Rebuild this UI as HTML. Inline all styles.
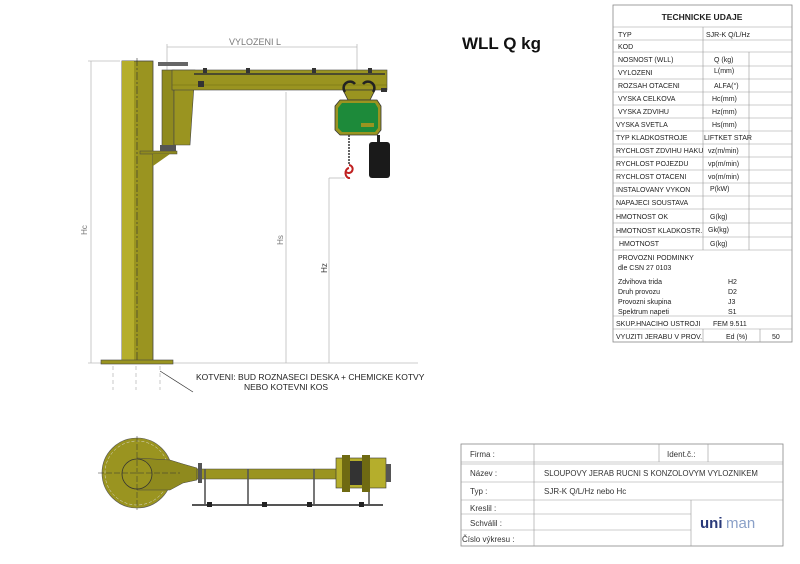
<!DOCTYPE html>
<html><head><meta charset="utf-8"><style>
body{margin:0;background:#fff}
svg{display:block}
text{font-family:"Liberation Sans",sans-serif}
</style></head><body>
<svg width="800" height="564" viewBox="0 0 800 564" xmlns="http://www.w3.org/2000/svg">
<rect width="800" height="564" fill="#fff"/>
<!-- side view -->
<g stroke="#bbb" stroke-width="0.8" fill="none">
<line x1="91" y1="61" x2="91" y2="363"/><line x1="88" y1="61" x2="120" y2="61"/>
<line x1="167" y1="47" x2="357" y2="47"/><line x1="167" y1="44" x2="167" y2="70"/><line x1="357" y1="44" x2="357" y2="100"/>
<line x1="286" y1="92" x2="286" y2="363"/>
<line x1="329" y1="178" x2="329" y2="363"/><line x1="329" y1="178" x2="345" y2="178"/>
<line x1="88" y1="363" x2="418" y2="363"/>
<line x1="113" y1="366" x2="113" y2="390" stroke-dasharray="4 3"/>
<line x1="136" y1="366" x2="136" y2="390" stroke-dasharray="4 3"/>
<line x1="160" y1="366" x2="160" y2="390" stroke-dasharray="4 3"/>
</g>
<text x="255" y="45" font-size="9" fill="#777" text-anchor="middle">VYLOZENI  L</text>
<text x="87" y="230" font-size="8" fill="#777" transform="rotate(-90 87 230)" text-anchor="middle">Hc</text>
<text x="283" y="240" font-size="8" fill="#777" transform="rotate(-90 283 240)" text-anchor="middle">Hs</text>
<text x="327" y="268" font-size="8" fill="#333" transform="rotate(-90 327 268)" text-anchor="middle">Hz</text>
<!-- column -->
<rect x="122" y="61" width="31" height="301" fill="#9a9420" stroke="#444" stroke-width="0.8"/>
<rect x="122" y="61" width="12" height="301" fill="#b5ae2c"/>
<line x1="137" y1="58" x2="137" y2="366" stroke="#333" stroke-width="0.6" stroke-dasharray="8 2 2 2"/>
<rect x="101" y="360" width="72" height="4" fill="#9a9420" stroke="#444" stroke-width="0.6"/>
<!-- bracket -->
<rect x="158" y="62" width="30" height="4" fill="#666"/>
<rect x="162" y="70" width="12" height="78" fill="#8f8a1e" stroke="#444" stroke-width="0.6"/>
<polygon points="174,70 195,70 190,145 174,145" fill="#9a9420" stroke="#444" stroke-width="0.6"/>
<rect x="140" y="151" width="37" height="3" fill="#8f8a1e" stroke="#444" stroke-width="0.5"/>
<polygon points="153,154 170,154 153,166" fill="#8f8a1e"/>
<rect x="160" y="145" width="16" height="6" fill="#555"/>
<!-- boom -->
<rect x="172" y="70" width="215" height="20" fill="#9a9420" stroke="#444" stroke-width="0.6"/>
<line x1="194" y1="74" x2="385" y2="74" stroke="#333" stroke-width="1.5"/>
<line x1="172" y1="85" x2="387" y2="85" stroke="#6f6a12" stroke-width="0.6"/>
<g fill="#333"><rect x="203" y="68" width="4" height="5"/><rect x="246" y="68" width="4" height="5"/><rect x="312" y="68" width="4" height="5"/><rect x="368" y="68" width="4" height="5"/><rect x="198" y="81" width="6" height="6"/><rect x="381" y="88" width="6" height="4"/></g>
<!-- trolley & hoist -->
<path d="M343 90 L375 90 L370 100 L348 100 Z" fill="#9a9420" stroke="#333" stroke-width="0.8"/>
<path d="M345 92 a6 6 0 0 1 10 -8 M363 84 a6 6 0 0 1 10 8" stroke="#222" stroke-width="2.5" fill="none"/>
<polygon points="340,100 377,100 381,106 381,130 377,135 340,135 335,130 335,106" fill="#9a9420" stroke="#333" stroke-width="0.8"/>
<polygon points="342,103 375,103 378,108 378,128 375,132 342,132 338,128 338,108" fill="#1d8a3a"/>
<rect x="361" y="123" width="13" height="4" fill="#9a9420"/>
<rect x="377" y="135" width="3" height="8" fill="#222"/>
<rect x="369" y="142" width="21" height="36" rx="3" fill="#1a1a1a"/>
<line x1="349" y1="135" x2="349" y2="165" stroke="#333" stroke-width="1.5" stroke-dasharray="2 1"/>
<path d="M349 165 a4 4 0 1 1 -3 7 M349 168 a4 5 0 1 0 1 10" stroke="#c02020" stroke-width="2" fill="none"/>
<text x="196" y="380" font-size="8.5" fill="#222">KOTVENI:   BUD ROZNASECI DESKA + CHEMICKE KOTVY</text>
<text x="244" y="390" font-size="8.5" fill="#222">NEBO KOTEVNI KOS</text>
<line x1="160" y1="371" x2="193" y2="392" stroke="#333" stroke-width="0.7"/>
<text x="462" y="49" font-size="17" font-weight="bold" fill="#111">WLL Q kg</text>
<!-- plan view -->
<circle cx="137" cy="473" r="35" fill="#9a9420" stroke="#555" stroke-width="0.6"/>
<circle cx="137" cy="473" r="32" fill="none" stroke="#ddd" stroke-width="0.5" stroke-dasharray="3 2"/>
<polygon points="137,458 170,460 183,464 197,468 197,480 183,483 170,490 137,490" fill="#8f8a1e" stroke="#444" stroke-width="0.5"/>
<circle cx="137" cy="474" r="15" fill="#9a9420" stroke="#333" stroke-width="0.8"/>
<line x1="98" y1="473" x2="180" y2="473" stroke="#333" stroke-width="0.5" stroke-dasharray="6 2"/>
<line x1="137" y1="436" x2="137" y2="510" stroke="#333" stroke-width="0.5" stroke-dasharray="6 2"/>
<rect x="197" y="469" width="140" height="10" fill="#9a9420" stroke="#444" stroke-width="0.5"/>
<rect x="198" y="463" width="4" height="20" fill="#555"/>
<g stroke="#555" stroke-width="1.6"><line x1="205" y1="469" x2="205" y2="505"/><line x1="248" y1="469" x2="248" y2="505"/><line x1="314" y1="469" x2="314" y2="505"/><line x1="369" y1="469" x2="369" y2="505"/></g>
<line x1="192" y1="505" x2="383" y2="505" stroke="#555" stroke-width="2"/>
<g fill="#222"><rect x="207" y="502" width="5" height="5"/><rect x="262" y="502" width="5" height="5"/><rect x="307" y="502" width="5" height="5"/><rect x="359" y="502" width="5" height="5"/></g>
<rect x="336" y="458" width="50" height="30" fill="#b5ae2c" stroke="#333" stroke-width="0.6"/>
<rect x="342" y="455" width="8" height="37" fill="#6f6a12"/>
<rect x="362" y="455" width="8" height="37" fill="#6f6a12"/>
<rect x="350" y="461" width="12" height="24" fill="#333"/>
<rect x="386" y="464" width="5" height="18" fill="#555"/>
<!-- technical table -->
<g font-size="7" fill="#222">
<rect x="613" y="5" width="179" height="337" fill="none" stroke="#888" stroke-width="0.8"/>
<text x="702" y="20" font-size="8.5" font-weight="bold" text-anchor="middle">TECHNICKE  UDAJE</text>
<g stroke="#999" stroke-width="0.6">
<line x1="613" y1="27" x2="792" y2="27"/><line x1="613" y1="40" x2="792" y2="40"/><line x1="613" y1="52" x2="792" y2="52"/><line x1="613" y1="66" x2="792" y2="66"/><line x1="613" y1="79" x2="792" y2="79"/><line x1="613" y1="92" x2="792" y2="92"/><line x1="613" y1="105" x2="792" y2="105"/><line x1="613" y1="118" x2="792" y2="118"/><line x1="613" y1="131" x2="792" y2="131"/><line x1="613" y1="144" x2="792" y2="144"/><line x1="613" y1="157" x2="792" y2="157"/><line x1="613" y1="170" x2="792" y2="170"/><line x1="613" y1="183" x2="792" y2="183"/><line x1="613" y1="196" x2="792" y2="196"/><line x1="613" y1="209" x2="792" y2="209"/><line x1="613" y1="223" x2="792" y2="223"/><line x1="613" y1="237" x2="792" y2="237"/><line x1="613" y1="250" x2="792" y2="250"/><line x1="613" y1="316" x2="792" y2="316"/><line x1="613" y1="329" x2="792" y2="329"/>
<line x1="703" y1="27" x2="703" y2="250"/><line x1="749" y1="52" x2="749" y2="250"/><line x1="703" y1="329" x2="703" y2="342"/><line x1="760" y1="329" x2="760" y2="342"/>
</g>
<text x="618" y="37">TYP</text><text x="706" y="37">SJR-K Q/L/Hz</text>
<text x="618" y="49">KOD</text>
<text x="618" y="62">NOSNOST (WLL)</text><text x="714" y="62">Q (kg)</text>
<text x="618" y="75">VYLOZENI</text><text x="714" y="73">L(mm)</text>
<text x="618" y="88">ROZSAH OTACENI</text><text x="714" y="88">ALFA(°)</text>
<text x="618" y="101">VYSKA CELKOVA</text><text x="712" y="101">Hc(mm)</text>
<text x="618" y="114">VYSKA ZDVIHU</text><text x="712" y="114">Hz(mm)</text>
<text x="616" y="127">VYSKA SVETLA</text><text x="712" y="127">Hs(mm)</text>
<text x="616" y="140">TYP KLADKOSTROJE</text><text x="704" y="140">LIFTKET STAR</text>
<text x="616" y="153">RYCHLOST ZDVIHU HAKU</text><text x="708" y="153">vz(m/min)</text>
<text x="616" y="166">RYCHLOST POJEZDU</text><text x="708" y="166">vp(m/min)</text>
<text x="616" y="179">RYCHLOST OTACENI</text><text x="708" y="179">vo(m/min)</text>
<text x="616" y="192">INSTALOVANY VYKON</text><text x="710" y="191">P(kW)</text>
<text x="616" y="205">NAPAJECI SOUSTAVA</text>
<text x="616" y="219">HMOTNOST OK</text><text x="710" y="219">G(kg)</text>
<text x="616" y="233">HMOTNOST KLADKOSTR.</text><text x="708" y="232">Gk(kg)</text>
<text x="619" y="246">HMOTNOST</text><text x="710" y="246">G(kg)</text>
<text x="618" y="260">PROVOZNI PODMINKY</text><text x="618" y="270">dle CSN 27 0103</text>
<text x="618" y="284">Zdvihova trida</text><text x="728" y="284">H2</text>
<text x="618" y="294">Druh provozu</text><text x="728" y="294">D2</text>
<text x="618" y="304">Provozni skupina</text><text x="728" y="304">J3</text>
<text x="618" y="314">Spektrum napeti</text><text x="728" y="314">S1</text>
<text x="616" y="326">SKUP.HNACIHO USTROJI</text><text x="713" y="326">FEM 9.511</text>
<text x="616" y="339">VYUZITI JERABU V PROV.</text><text x="726" y="339">Ed (%)</text><text x="772" y="339">50</text>
</g>
<!-- title block -->
<g font-size="8" fill="#333">
<rect x="461" y="444" width="322" height="102" fill="none" stroke="#888" stroke-width="0.8"/>
<g stroke="#999" stroke-width="0.6">
<line x1="461" y1="462" x2="783" y2="462"/><line x1="461" y1="464" x2="783" y2="464"/><line x1="461" y1="482" x2="783" y2="482"/><line x1="461" y1="500" x2="783" y2="500"/><line x1="461" y1="514" x2="691" y2="514"/><line x1="461" y1="530" x2="691" y2="530"/>
<line x1="534" y1="444" x2="534" y2="546"/><line x1="659" y1="444" x2="659" y2="462"/><line x1="708" y1="444" x2="708" y2="462"/><line x1="691" y1="500" x2="691" y2="546"/>
</g>
<text x="470" y="457">Firma :</text><text x="667" y="457">Ident.č.:</text>
<text x="470" y="476">Název :</text><text x="544" y="476" font-size="7.8">SLOUPOVY JERAB RUCNI S KONZOLOVYM VYLOZNIKEM</text>
<text x="470" y="494">Typ  :</text><text x="544" y="494">SJR-K Q/L/Hz nebo Hc</text>
<text x="470" y="511">Kreslil :</text>
<text x="470" y="526">Schválil :</text>
<text x="462" y="542">Číslo výkresu :</text>
<text x="700" y="528" font-size="15" font-weight="bold" fill="#2a3a7a">uni</text>
<text x="726" y="528" font-size="15" fill="#8aa0c8">man</text>
</g>
</svg>
</body></html>
